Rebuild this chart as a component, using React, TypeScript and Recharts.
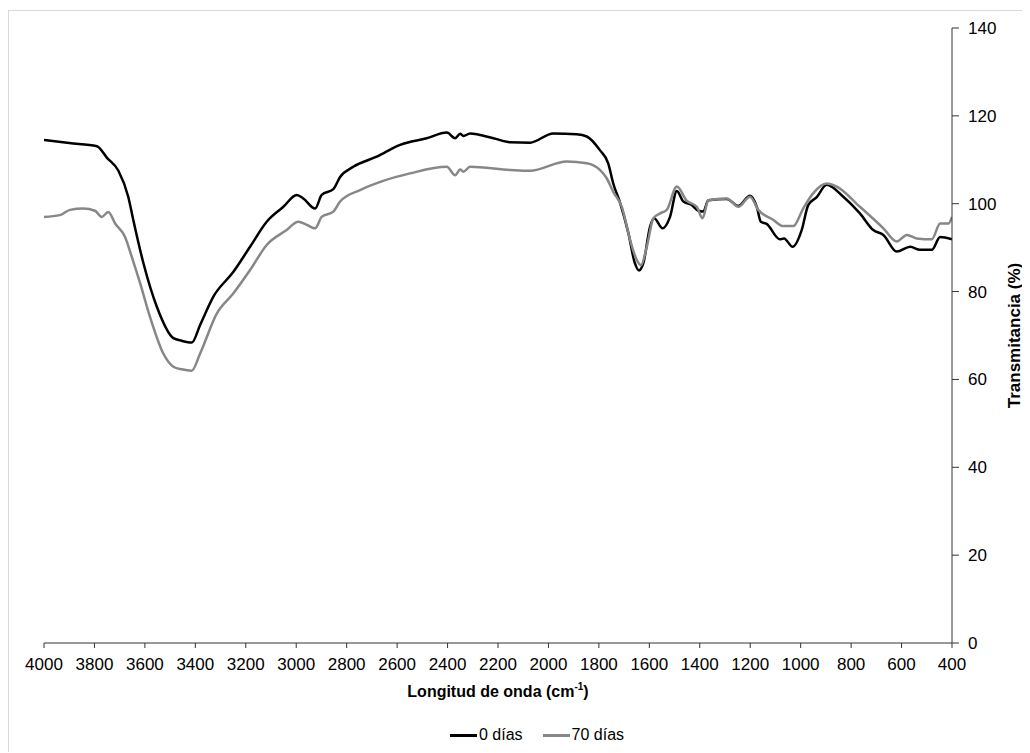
import { Legend, Line, LineChart, XAxis, YAxis } from 'recharts';

// wavenumber (cm-1) and transmittance (%)
const day0Wavenumbers = [
  4000, 3900, 3790, 3751, 3705, 3666, 3646, 3606, 3553, 3487, 3454, 3414, 3381,
  3329, 3249, 3183, 3117, 3051, 2998, 2972, 2925, 2899, 2853, 2826, 2774, 2681,
  2588, 2483, 2403, 2370, 2350, 2337, 2311, 2218, 2152, 2073, 1981, 1888, 1848,
  1796, 1763, 1743, 1716, 1683, 1657, 1641, 1624, 1597, 1581, 1547, 1518, 1491,
  1465, 1432, 1406, 1386, 1366, 1293, 1247, 1201, 1174, 1158, 1135, 1082, 1066,
  1032, 996, 970, 936, 897, 831, 765, 712, 672, 619, 566, 527, 480, 447, 400,
];
const day0Values = [
  114.5, 113.8, 113.1, 110.5, 107.5, 101.6, 96.3, 86.5, 76.6, 69.4, 68.8, 68.4,
  72.4, 78.8, 84.5, 90.2, 95.9, 99.3, 102, 101.2, 98.9, 102, 103.3, 106.1, 108.4,
  110.7, 113.4, 114.9, 116.2, 114.9, 115.9, 115.4, 116, 114.9, 114, 113.9, 116,
  115.8, 115.3, 112.2, 109.2, 104.6, 100.2, 93.3, 86.4, 84.8, 86.4, 94.8, 96.7,
  94.4, 97, 102.9, 100.5, 99.7, 98.4, 98.2, 100.8, 101.1, 99.5, 101.8, 99.3,
  95.9, 95.4, 91.9, 92.1, 90.2, 94, 99.7, 101.5, 104.3, 101.6, 97.8, 94, 92.9,
  89.1, 90.2, 89.5, 89.5, 92.4, 91.9,
];

const day70Wavenumbers = [
  4000, 3937, 3897, 3844, 3798, 3771, 3745, 3718, 3679, 3652, 3619, 3580, 3527,
  3487, 3454, 3414, 3381, 3315, 3249, 3183, 3117, 3038, 2992, 2958, 2925, 2899,
  2853, 2826, 2747, 2655, 2549, 2403, 2370, 2350, 2337, 2311, 2152, 2073, 1928,
  1848, 1796, 1769, 1743, 1709, 1676, 1650, 1633, 1610, 1584, 1557, 1531, 1491,
  1452, 1412, 1389, 1366, 1293, 1247, 1201, 1168, 1108, 1069, 1029, 990, 950,
  897, 857, 765, 672, 619, 579, 540, 480, 447, 414, 400,
];
const day70Values = [
  97, 97.4, 98.6, 98.9, 98.4, 97, 98.1, 95.5, 92.5, 87.9, 81.9, 74.3, 65.9, 62.9,
  62.3, 62, 65.9, 75, 79.6, 84.9, 90.6, 94, 95.9, 95.2, 94.4, 97, 98.2, 100.5,
  103.1, 105.2, 106.9, 108.4, 106.5, 107.8, 107.3, 108.4, 107.7, 107.5, 109.6,
  109.2, 107.7, 105.8, 102.7, 99.3, 91.7, 87.2, 86, 90.2, 96.7, 97.8, 98.6,
  103.9, 100.7, 99.3, 96.7, 100.8, 101.2, 99.3, 101.6, 98.6, 96.3, 94.9, 94.9,
  98.9, 102.4, 104.6, 103.9, 99.3, 94.4, 91.4, 92.9, 92.1, 91.9, 95.5, 95.5, 97,
];

const xTicks = [
  4000, 3800, 3600, 3400, 3200, 3000, 2800, 2600, 2400, 2200, 2000, 1800, 1600,
  1400, 1200, 1000, 800, 600, 400,
];
const yTicks = [0, 20, 40, 60, 80, 100, 120, 140];

const seriesNames = ['0 días', '70 días'];
const seriesColors = ['#000000', '#878787'];

const day0Data = day0Wavenumbers.map((wn, i) => ({ wn, t: day0Values[i] }));
const day70Data = day70Wavenumbers.map((wn, i) => ({ wn, t: day70Values[i] }));

const FONT = '"Liberation Sans", Arial, sans-serif';

function XTitle({ viewBox }: any) {
  const cx = viewBox.x + viewBox.width / 2;
  return (
    <text
      x={cx}
      y={viewBox.y + 54}
      textAnchor="middle"
      fontSize={16}
      fontWeight="bold"
      fill="#000"
      fontFamily={FONT}
    >
      Longitud de onda (cm
      <tspan fontSize={10} dy={-7}>
        -1
      </tspan>
      <tspan dy={7}>)</tspan>
    </text>
  );
}

function YTitle({ viewBox }: any) {
  const x = viewBox.x + 68;
  const y = viewBox.y + viewBox.height / 2;
  return (
    <text
      x={x}
      y={y}
      transform={`rotate(-90, ${x}, ${y})`}
      textAnchor="middle"
      fontSize={17}
      fontWeight="bold"
      fill="#000"
      fontFamily={FONT}
    >
      Transmitancia (%)
    </text>
  );
}

function LegendContent() {
  return (
    <div
      style={{
        display: 'flex',
        justifyContent: 'center',
        height: 20,
        alignItems: 'center',
        fontSize: 16,
        fontFamily: FONT,
        paddingLeft: 18,
      }}
    >
      {seriesNames.map((name, i) => (
        <div key={name} style={{ display: 'flex', alignItems: 'center', marginRight: i === 0 ? 20 : 0 }}>
          <span
            style={{
              display: 'inline-block',
              width: 27,
              height: 3,
              background: seriesColors[i],
              marginRight: 2,
            }}
          />
          <span>{name}</span>
        </div>
      ))}
    </div>
  );
}

export default function App() {
  return (
    <div
      style={{
        marginTop: 2,
        borderTop: '1px solid #d9d9d9',
        borderLeft: '1px solid #d9d9d9',
        width: 1020,
        fontFamily: FONT,
      }}
    >
      <LineChart
        width={1020}
        height={741}
        margin={{ top: 17, left: 35, right: 17, bottom: 7 }}
      >
        <XAxis
          dataKey="wn"
          type="number"
          domain={[400, 4000]}
          reversed
          ticks={xTicks}
          interval={0}
          allowDataOverflow
          height={82}
          tickSize={5}
          tickMargin={10}
          stroke="#333"
          tick={{ fill: '#000', fontSize: 17, fontFamily: FONT }}
          label={<XTitle />}
        />
        <YAxis
          orientation="right"
          type="number"
          domain={[0, 140]}
          ticks={yTicks}
          interval={0}
          width={60}
          tickSize={7}
          tickMargin={9}
          stroke="#333"
          tick={{ fill: '#000', fontSize: 17, fontFamily: FONT, textAnchor: 'start' }}
          label={<YTitle />}
        />
        <Legend verticalAlign="bottom" content={<LegendContent />} />
        <Line
          data={day0Data}
          dataKey="t"
          name={seriesNames[0]}
          type="monotone"
          stroke={seriesColors[0]}
          strokeWidth={2.5}
          dot={false}
          isAnimationActive={false}
        />
        <Line
          data={day70Data}
          dataKey="t"
          name={seriesNames[1]}
          type="monotone"
          stroke={seriesColors[1]}
          strokeWidth={2.5}
          dot={false}
          isAnimationActive={false}
        />
      </LineChart>
    </div>
  );
}
